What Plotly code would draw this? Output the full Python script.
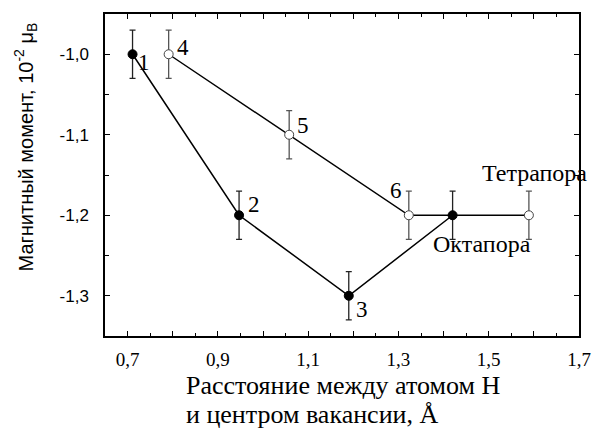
import plotly.graph_objects as go

# --- data ---
octa_x = [0.711, 0.947, 1.19, 1.42]
octa_y = [-1.0, -1.2, -1.3, -1.2]
octa_err = [0.03, 0.03, 0.03, 0.03]
tetra_x = [0.791, 1.058, 1.323, 1.589]
tetra_y = [-1.0, -1.1, -1.2, -1.2]
tetra_err = [0.03, 0.03, 0.03, 0.03]
octa_labels = ["1", "2", "3", ""]
tetra_labels = ["4", "5", "6", ""]
x_tickvals = [0.7, 0.8, 0.9, 1.0, 1.1, 1.2, 1.3, 1.4, 1.5, 1.6, 1.7]
x_ticktext = ["0,7", "", "0,9", "", "1,1", "", "1,3", "", "1,5", "", "1,7"]
y_tickvals = [-1.0, -1.1, -1.2, -1.3]
y_ticktext = ["-1,0", "-1,1", "-1,2", "-1,3"]
x_title_lines = ["Расстояние между атомом Н", "и центром вакансии, Å"]
y_title = "Магнитный момент, 10<sup>-2</sup> μ<sub>B</sub>"

SERIF = "Liberation Serif, Times New Roman, DejaVu Serif, serif"
SANS = "Liberation Sans, Arial, sans-serif"

fig = go.Figure()

# connecting lines
fig.add_trace(go.Scatter(x=tetra_x, y=tetra_y, mode="lines",
                         line=dict(color="black", width=1.5), hoverinfo="skip"))
fig.add_trace(go.Scatter(x=octa_x, y=octa_y, mode="lines",
                         line=dict(color="black", width=1.5), hoverinfo="skip"))

# markers with error bars
fig.add_trace(go.Scatter(x=tetra_x, y=tetra_y, mode="markers",
                         marker=dict(symbol="circle", size=9, color="white",
                                     line=dict(color="#444", width=1)),
                         error_y=dict(type="data", array=tetra_err, visible=True,
                                      color="#555", thickness=1.3, width=3)))
fig.add_trace(go.Scatter(x=octa_x, y=octa_y, mode="markers",
                         marker=dict(symbol="circle", size=9, color="black",
                                     line=dict(color="black", width=1)),
                         error_y=dict(type="data", array=octa_err, visible=True,
                                      color="#222", thickness=1.3, width=3)))

# point number labels (offsets in pixels)
offsets_octa = [(11, -8), (15, 11), (13, -14), (0, 0)]
offsets_tetra = [(14, 7), (14, 9), (-13, 25), (0, 0)]
for xs, ys, labs, offs in [(octa_x, octa_y, octa_labels, offsets_octa),
                           (tetra_x, tetra_y, tetra_labels, offsets_tetra)]:
    for xv, yv, lab, (dx, dy) in zip(xs, ys, labs, offs):
        if lab:
            fig.add_annotation(x=xv, y=yv, text=lab, showarrow=False,
                               xshift=dx, yshift=dy,
                               font=dict(family=SERIF, size=23, color="black"))

fig.add_annotation(x=tetra_x[-1], y=tetra_y[-1], text="Тетрапора", showarrow=False,
                   xshift=6, yshift=42, font=dict(family=SERIF, size=24, color="black"))
fig.add_annotation(x=octa_x[-1], y=octa_y[-1], text="Октапора", showarrow=False,
                   xshift=29, yshift=-29, font=dict(family=SERIF, size=24, color="black"))

# axis titles as annotations
for i, line in enumerate(x_title_lines):
    fig.add_annotation(xref="paper", yref="paper", x=0.167, y=-(386 + 29 * i - 336) / 323,
                       xanchor="left", yanchor="middle", align="left", showarrow=False,
                       text=line, font=dict(family=SERIF, size=26, color="black"))
fig.add_annotation(xref="paper", yref="paper", x=-0.167, y=0.588,
                   xanchor="center", yanchor="middle", textangle=-90, showarrow=False,
                   text=y_title, font=dict(family=SANS, size=20, color="black"))

axis_common = dict(showline=True, linecolor="black", linewidth=1.5, mirror="ticks",
                   ticks="inside", tickcolor="black", tickwidth=1.2, ticklen=5,
                   showgrid=False, zeroline=False)

fig.update_xaxes(range=[0.65, 1.7], tickmode="array", tickvals=x_tickvals,
                 ticktext=x_ticktext,
                 tickfont=dict(family=SERIF, size=19, color="black"),
                 minor=dict(ticks="inside", ticklen=3, tickcolor="black", dtick=0.05,
                            tick0=0.65, tickwidth=1.2, showgrid=False),
                 ticklabelstandoff=5,
                 **axis_common)
fig.update_yaxes(range=[-1.35, -0.95], tickmode="array", tickvals=y_tickvals,
                 ticktext=y_ticktext,
                 tickfont=dict(family=SANS, size=17, color="black"),
                 minor=dict(ticks="inside", ticklen=4, tickcolor="black", dtick=0.05,
                            tick0=-1.35, tickwidth=1.2, showgrid=False),
                 ticklabelstandoff=11,
                 **axis_common)

fig.update_layout(width=603, height=434, showlegend=False,
                  margin=dict(l=105, r=14, t=13, b=98),
                  plot_bgcolor="white", paper_bgcolor="white")

fig.write_html("out.html")
